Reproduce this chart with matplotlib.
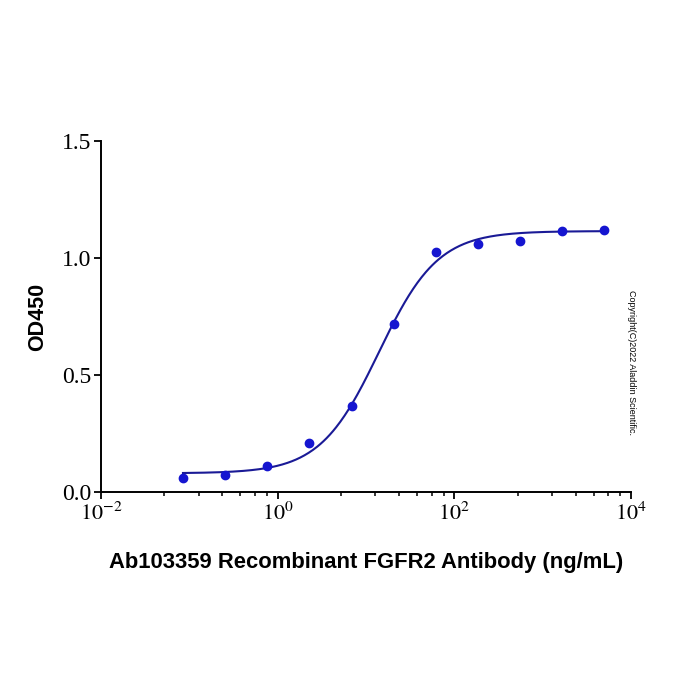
import numpy as np
import matplotlib
matplotlib.use('Agg')
import matplotlib.pyplot as plt
from matplotlib.ticker import FixedLocator, NullFormatter

plt.rcParams['mathtext.fontset'] = 'stix'

# 3-fold dilution series (ng/mL) and measured OD450
conc = [0.0847, 0.254, 0.762, 2.29, 6.86, 20.6, 61.7, 185.2, 555.6, 1666.7, 5000.0]
od450 = [0.061, 0.071, 0.111, 0.209, 0.368, 0.718, 1.026, 1.060, 1.073, 1.117, 1.118]

# 4PL fit parameters
BOTTOM = 0.08
TOP = 1.115
EC50 = 14.0
HILL = 1.3

x_ticks = [1e-2, 1e0, 1e2, 1e4]
x_tick_labels = [r'$10^{-2}$', r'$10^{0}$', r'$10^{2}$', r'$10^{4}$']
y_ticks = [0.0, 0.5, 1.0, 1.5]
y_tick_labels = ['0.0', '0.5', '1.0', '1.5']

LINE_COLOR = '#1a1a96'
DOT_COLOR = '#1515d0'


def four_pl(x):
    return BOTTOM + (TOP - BOTTOM) / (1 + (EC50 / x) ** HILL)


fig = plt.figure(figsize=(7, 7), dpi=100)
ax = fig.add_axes([0.1443, 0.2971, 0.7571, 0.5015])

xs = np.logspace(np.log10(conc[0]), np.log10(conc[-1]), 400)
ax.plot(xs, four_pl(xs), color=LINE_COLOR, lw=1.5, zorder=2)
ax.plot(conc, od450, 'o', color=DOT_COLOR, ms=6, zorder=3)

ax.set_xscale('log')
ax.set_xlim(1e-2, 1e4)
ax.set_ylim(0, 1.5)

for side in ['top', 'right']:
    ax.spines[side].set_visible(False)
for side in ['left', 'bottom']:
    ax.spines[side].set_linewidth(1.4)

ax.set_xticks(x_ticks)
ax.set_xticklabels(x_tick_labels, fontsize=16)
# minor ticks: the major interval split linearly into 7 parts on a decade scale
minor = [10.0 ** a * (1 + 9 * i / 7) ** 2 for a in (-2, 0, 2) for i in range(1, 7)]
ax.xaxis.set_minor_locator(FixedLocator(minor))
ax.xaxis.set_minor_formatter(NullFormatter())
ax.set_yticks(y_ticks)
ax.set_yticklabels(y_tick_labels, fontsize=17, family='Liberation Serif')
ax.tick_params(which='major', direction='out', length=5, width=1.3, pad=2)
ax.tick_params(which='minor', direction='out', length=3, width=1.1)

ax.set_xlabel('Ab103359 Recombinant FGFR2 Antibody (ng/mL)', fontsize=15.8,
              fontweight='bold', family='Liberation Sans', labelpad=20)
ax.set_ylabel('OD450', fontsize=15.5, fontweight='bold', family='Liberation Sans',
              labelpad=10)

fig.text(0.902, 0.482, 'Copyright(C)2022 Aladdin Scientific.', rotation=-90,
         fontsize=6.5, family='Liberation Sans', ha='center', va='center')

fig.savefig('out.png', dpi=100)
